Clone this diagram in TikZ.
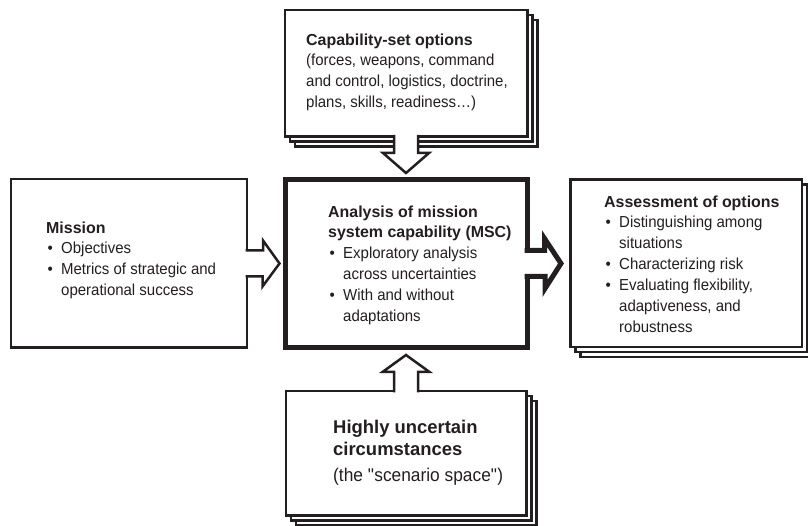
\documentclass[tikz,border=0pt]{standalone}
\usepackage{fontspec}
\setmainfont[FakeStretch=0.94,BoldFeatures={FakeStretch=1}]{Liberation Sans}
\usepackage{tikz}
\usetikzlibrary{shadows,calc,positioning}
\definecolor{inkblack}{RGB}{35,31,32}

\newcommand{\bitem}{\makebox[15bp][l]{\hspace{1.5bp}\textbullet}}
\newcommand{\bcont}{\hspace{15bp}}
\newcommand{\bigtitle}{\fontsize{18.5}{22}\selectfont\bfseries}
\newcommand{\bigplain}{\fontsize{18.5}{22}\selectfont}

\tikzset{
  plainbox/.style={draw=inkblack, fill=white, line width=2.5bp, inner sep=0pt},
  stackbox/.style={plainbox,
    copy shadow={shadow xshift=10bp, shadow yshift=-10bp, draw=inkblack, fill=white, line width=2.5bp},
    copy shadow={shadow xshift=5bp, shadow yshift=-5bp, draw=inkblack, fill=white, line width=2.5bp}},
  blockarrow/.style={draw=inkblack, fill=white, line width=2.5bp, line join=miter},
  boxtext/.style={anchor=north west, align=left, inner sep=0pt, text=inkblack,
    font=\fontsize{16}{21}\selectfont}
}

\begin{document}
\begin{tikzpicture}[x=1bp, y=1bp]
  \useasboundingbox (0,0) rectangle (808,526);

  % Boxes
  \node[stackbox, minimum width=242.5bp, minimum height=126.5bp] (cap) at (406,452.5) {};
  \node[plainbox, line width=5bp, minimum width=242bp, minimum height=168bp] (msc) at (406,262.5) {};
  \node[plainbox, minimum width=235.5bp, minimum height=168.5bp] (mission) at (129,262.5) {};
  \node[stackbox, minimum width=231.5bp, minimum height=167.5bp] (assess) at (686,262.5) {};
  \node[stackbox, minimum width=240.5bp, minimum height=124.5bp] (uncert) at (406,72.5) {};

  % Texts
  \node[boxtext] (captext) at (306,492.7) {\textbf{Capability-set options}\\
    (forces, weapons, command\\
    and control, logistics, doctrine,\\
    plans, skills, readiness\ldots)};
  \node[boxtext] (missiontext) at (46,304.7) {\textbf{Mission}\\
    \bitem Objectives\\
    \bitem Metrics of strategic and\\
    \bcont operational success};
  \node[boxtext] (msctext) at (328,320.7) {\textbf{Analysis of mission}\\
    \textbf{system capability (MSC)}\\
    \bitem Exploratory analysis\\
    \bcont across uncertainties\\
    \bitem With and without\\
    \bcont adaptations};
  \node[boxtext] (assesstext) at (604,330.7) {\textbf{Assessment of options}\\
    \bitem Distinguishing among\\
    \bcont situations\\
    \bitem Characterizing risk\\
    \bitem Evaluating flexibility,\\
    \bcont adaptiveness, and\\
    \bcont robustness};
  \node[boxtext] (uncerttext) at (333,105.9) {\bigtitle Highly uncertain\\[1bp]
    \bigtitle circumstances\\[5bp]
    \bigplain (the \textquotedbl scenario space\textquotedbl)};

  % Block arrows
  \draw[blockarrow] ($(cap.south)+(-12,3)$) -- ++(0,-18) -- ++(-11,0)
    -- ($(msc.north)+(0,4)$) -- ++(23,20) -- ++(-11,0) -- ($(cap.south)+(12,3)$);
  \draw[blockarrow] ($(mission.east)+(-2.5,13)$) -- ++(17.5,0) -- ++(0,10)
    -- ($(msc.west)+(-3,0)$) -- ++(-17,-23) -- ++(0,10) -- ($(mission.east)+(-2.5,-13)$);
  \draw[blockarrow, line width=5bp] ($(msc.east)+(-5,13)$) -- ++(20,0) -- ++(0,12)
    -- ($(assess.west)+(-8,0)$) -- ++(-16,-25) -- ++(0,12) -- ($(msc.east)+(-5,-13)$);
  \draw[blockarrow] ($(uncert.north)+(-12,-2.5)$) -- ++(0,20.5) -- ++(-11.5,0)
    -- ($(msc.south)+(0,-5)$) -- ++(23.5,-17) -- ++(-11.5,0) -- ($(uncert.north)+(12,-2.5)$);
\end{tikzpicture}
\end{document}
